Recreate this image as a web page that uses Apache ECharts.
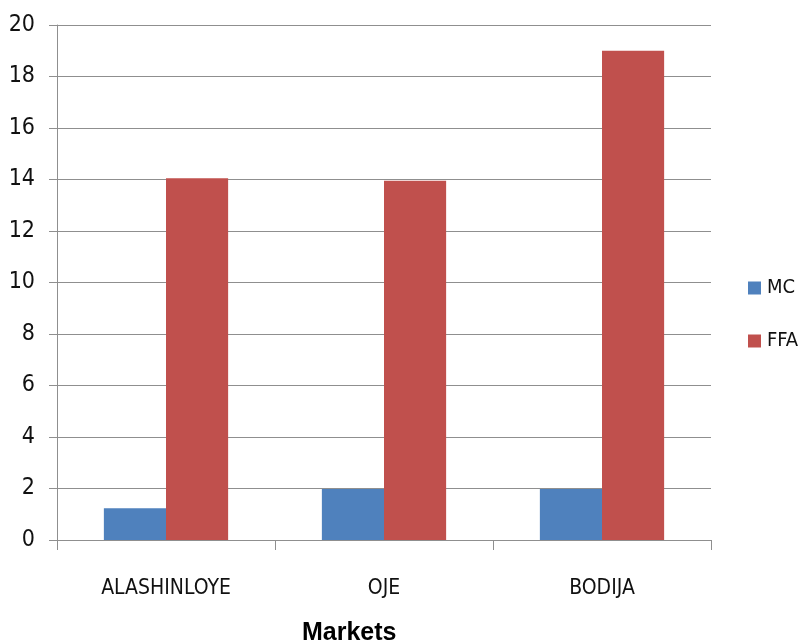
<!DOCTYPE html>
<html>
<head>
<meta charset="utf-8">
<script src="https://cdn.jsdelivr.net/npm/echarts@6/dist/echarts.min.js"></script>
<style>
html,body{margin:0;padding:0;background:#fff;}
#chart{width:803px;height:644px;}
</style>
</head>
<body>
<div id="chart"></div>
<script>
var categories = ['ALASHINLOYE', 'OJE', 'BODIJA'];
var mcValues = [1.23, 1.98, 1.98];
var ffaValues = [14.05, 13.95, 19.0];
var yTicks = [0, 2, 4, 6, 8, 10, 12, 14, 16, 18, 20];
var xAxisTitle = 'Markets';

var narrow = '"Liberation Sans Narrow", "DejaVu Sans Condensed", sans-serif';
var chart = echarts.init(document.getElementById('chart'), null, {renderer: 'canvas'});
chart.setOption({
  animation: false,
  backgroundColor: '#ffffff',
  grid: {left: 57, right: 92, top: 25, bottom: 104, containLabel: false},
  legend: {
    orient: 'vertical',
    left: 748,
    top: 278,
    padding: 0,
    icon: 'rect',
    itemWidth: 13,
    itemHeight: 13,
    itemGap: 33,
    textStyle: {fontFamily: narrow, fontSize: 20, lineHeight: 20, color: '#111', padding: [0, 0, 0, 1]},
    data: ['MC', 'FFA']
  },
  graphic: [{
    type: 'text',
    left: 302,
    top: 621,
    style: {text: xAxisTitle, font: 'bold 25px "Liberation Sans", Arial, sans-serif', fill: '#000'}
  }],
  xAxis: {
    type: 'category',
    data: categories,
    boundaryGap: true,
    axisLine: {lineStyle: {color: '#8f8f8f', width: 1}},
    axisTick: {show: true, length: 10, alignWithLabel: false, lineStyle: {color: '#8f8f8f'}},
    axisLabel: {fontFamily: narrow, fontSize: 21, color: '#111', margin: 38}
  },
  yAxis: {
    type: 'value',
    min: yTicks[0],
    max: yTicks[yTicks.length - 1],
    interval: 2,
    axisLine: {show: true, lineStyle: {color: '#8f8f8f', width: 1}},
    axisTick: {show: true, length: 8, inside: false, lineStyle: {color: '#8f8f8f'}},
    splitLine: {lineStyle: {color: '#8f8f8f', width: 1}},
    axisLabel: {fontFamily: narrow, fontSize: 23, color: '#111', margin: 22}
  },
  series: [
    {name: 'MC', type: 'bar', data: mcValues, barGap: '0%', barCategoryGap: '43%', itemStyle: {color: '#4F81BD'}},
    {name: 'FFA', type: 'bar', data: ffaValues, barGap: '0%', barCategoryGap: '43%', itemStyle: {color: '#C0504D'}}
  ]
});
</script>
</body>
</html>
